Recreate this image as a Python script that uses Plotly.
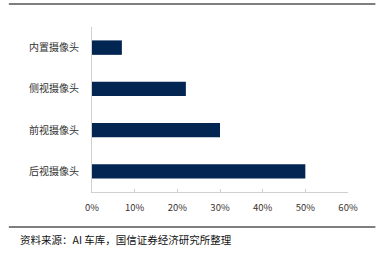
import plotly.graph_objects as go

categories = ["后视摄像头", "前视摄像头", "侧视摄像头", "内置摄像头"]
values = [0.50, 0.30, 0.22, 0.07]
x_ticks = [0, 0.1, 0.2, 0.3, 0.4, 0.5, 0.6]
x_tick_labels = ["0%", "10%", "20%", "30%", "40%", "50%", "60%"]
source_text = "资料来源：AI 车库，国信证券经济研究所整理"

W, H = 387, 253
L, R, T, B = 91.5, 38.5, 27, 61

fig = go.Figure(go.Bar(
    x=values, y=categories, orientation="h",
    marker=dict(color="#022552", line=dict(width=0)),
    width=0.35,
))

font = "Noto Sans CJK SC"
fig.update_layout(
    width=W, height=H,
    margin=dict(l=L, r=R, t=T, b=B, pad=0),
    paper_bgcolor="white", plot_bgcolor="white",
    showlegend=False,
    font=dict(family=font, size=10, color="#333333"),
    bargap=0.65,
)
fig.update_xaxes(
    range=[0, 0.6], tickvals=x_ticks, ticktext=x_tick_labels,
    showgrid=False, zeroline=False,
    showline=True, linecolor="#d0d0d0", linewidth=1,
    ticks="inside", ticklen=3, tickcolor="#d0d0d0",
    tickfont=dict(size=9.5, color="#3a3330"),
    ticklabelstandoff=7,
)
fig.update_yaxes(
    range=[-0.5, 3.5], showgrid=False, zeroline=False,
    showline=True, linecolor="#d0d0d0", linewidth=1,
    ticks="", tickfont=dict(size=10, color="#333333"),
    ticklabelstandoff=10,
)

def px(x):
    return (x - L) / (W - L - R)

def py(y):
    return (H - B - y) / (H - T - B)

for yline in (4, 227):
    fig.add_shape(type="line", xref="paper", yref="paper",
                  x0=px(8), x1=px(376), y0=py(yline), y1=py(yline),
                  line=dict(color="black", width=1.2))

fig.add_annotation(text=source_text, xref="paper", yref="paper",
                   x=px(17), y=py(239), xanchor="left", yanchor="middle",
                   showarrow=False, font=dict(size=10.5, color="#111111", family=font))

fig.write_html("out.html")
